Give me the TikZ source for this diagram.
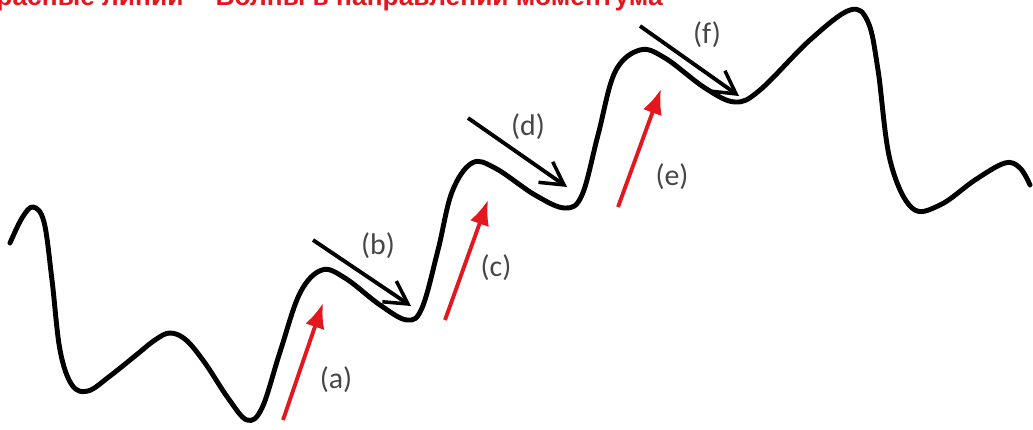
\documentclass[tikz,border=0pt]{standalone}
\usepackage{fontspec}
\setsansfont{Carlito}
\newfontfamily\headfont{Liberation Sans}
\usepackage{tikz}
\usetikzlibrary{arrows.meta}
\definecolor{arrred}{RGB}{228,22,30}
\definecolor{labgray}{RGB}{70,70,70}

\begin{document}
\begin{tikzpicture}[x=0.02cm,y=-0.02cm]

  \tikzstyle{wave}=[draw,line width=2.8pt,line cap=round,line join=round]
  \tikzstyle{redptr}=[draw,-{Latex[length=5mm,width=4mm]},line width=2.2pt,arrred]
  \tikzstyle{blkptr}=[draw,-{Straight Barb[length=4.5mm,width=5mm,line width=2pt]},line width=2.2pt,black]
  \tikzstyle{lab}=[font=\sffamily\fontsize{17}{19}\selectfont,labgray,inner sep=0pt]

  \useasboundingbox (0,0) rectangle (1033,429);

  % title (cut off at the top edge)
  \begin{scope}
    \clip (0,0) rectangle (1033,429);
    \node[anchor=base west,inner sep=0pt,arrred,font=\headfont\bfseries\fontsize{15}{17}\selectfont] (title) at (-20,6)
      {Красные линии -- Волны в направлении моментума};
  \end{scope}

  % wave
  \draw[wave] plot[smooth,tension=0.6] coordinates {
    (10,243) (22,218) (33,207) (44,222) (52,280) (60,350) (72,385) (88,391)
    (110,376) (135,356) (155,340) (170,333) (186,340) (205,363) (228,398)
    (247,420) (262,408) (280,352)
    (300,293) (322,270) (345,278) (380,305) (407,320) (422,308) (438,250)
    (452,192) (472,163) (495,168) (535,195) (565,208) (582,195) (598,135)
    (615,72) (640,50) (665,58) (705,88) (735,102) (760,90) (810,40) (850,10)
    (868,22) (878,70) (890,160) (912,208) (940,205) (975,180) (1005,163)
    (1020,168) (1030,185)};

  % nodes
  \coordinate (a0) at (283,420);  \coordinate (a1) at (323,303);
  \coordinate (c0) at (445,320);  \coordinate (c1) at (488,200);
  \coordinate (e0) at (618,207);  \coordinate (e1) at (661,89);
  \coordinate (b0) at (313,240);  \coordinate (b1) at (411,306);
  \coordinate (d0) at (468,118);  \coordinate (d1) at (567,187);
  \coordinate (f0) at (640,26);   \coordinate (f1) at (739,96);

  \node[lab] (la) at (336,380) {(a)};
  \node[lab] (lb) at (378,246) {(b)};
  \node[lab] (lc) at (496,268) {(c)};
  \node[lab] (ld) at (528,127) {(d)};
  \node[lab] (le) at (672,177) {(e)};
  \node[lab] (lf) at (707,35)  {(f)};

  % pointers
  \draw[redptr] (a0) -- (a1);
  \draw[redptr] (c0) -- (c1);
  \draw[redptr] (e0) -- (e1);

  \draw[blkptr] (b0) -- (b1);
  \draw[blkptr] (d0) -- (d1);
  \draw[blkptr] (f0) -- (f1);

\end{tikzpicture}
\end{document}
